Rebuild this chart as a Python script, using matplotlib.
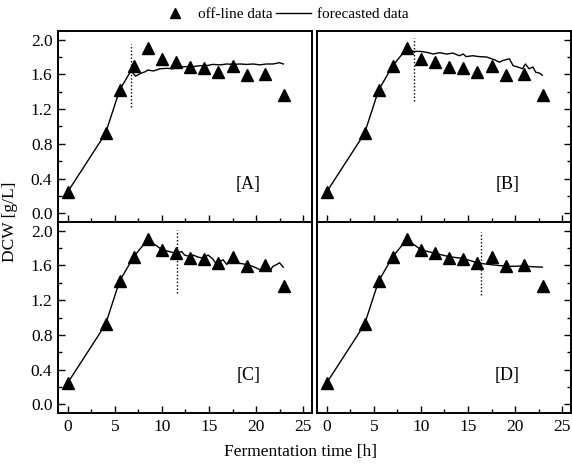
import matplotlib.pyplot as plt
from matplotlib.ticker import MultipleLocator

plt.rcParams['font.family'] = ['Liberation Serif', 'DejaVu Serif']

# off-line measurements (same in every panel)
t_off = [0, 4, 5.5, 7, 8.5, 10, 11.5, 13, 14.5, 16, 17.5, 19, 21, 23]
dcw_off = [0.25, 0.92, 1.42, 1.70, 1.90, 1.78, 1.74, 1.69, 1.67, 1.63, 1.70, 1.59, 1.61, 1.36]

# forecasted curves
t_a = [0, 4, 5.5, 6.7, 7.2, 7.7, 8.2, 8.5, 9.1, 9.8, 10.5, 11.2, 11.9, 12.6, 13.3,
       14.0, 14.7, 15.4, 16.2, 16.9, 17.6, 18.3, 19.0, 19.7, 20.4, 21.1, 21.8, 22.5, 22.9]
dcw_a = [0.25, 0.92, 1.42, 1.64, 1.58, 1.61, 1.63, 1.65, 1.64, 1.665, 1.67, 1.665, 1.685,
         1.69, 1.69, 1.70, 1.70, 1.715, 1.71, 1.72, 1.715, 1.72, 1.715, 1.72, 1.71, 1.72,
         1.72, 1.735, 1.72]

t_b = [0, 4, 5.5, 7, 8.5, 9.2, 9.9, 10.6, 11.3, 12.0, 12.7, 13.4, 14.1, 14.5, 14.8, 15.5,
       16.2, 17.0, 17.5, 17.8, 18.35, 18.7, 19.4, 19.8, 20.3, 20.8, 21.1, 21.5, 21.9, 22.2,
       22.6, 22.9]
dcw_b = [0.25, 0.92, 1.42, 1.70, 1.90, 1.865, 1.865, 1.855, 1.835, 1.85, 1.835, 1.845,
         1.815, 1.835, 1.805, 1.815, 1.805, 1.80, 1.78, 1.77, 1.74, 1.76, 1.78, 1.70, 1.685,
         1.665, 1.72, 1.665, 1.685, 1.625, 1.615, 1.59]

t_c = [0, 4, 5.5, 7, 8.5, 10, 11.5, 12.1, 12.4, 13.0, 13.3, 13.85, 14.4, 14.9, 15.4, 15.8,
       16.15, 16.5, 16.9, 17.2, 17.6, 17.9, 18.5, 19.0, 19.5, 20.05, 20.4, 20.8, 21.1, 21.5,
       21.8, 22.2, 22.5, 22.9]
dcw_c = [0.25, 0.92, 1.42, 1.70, 1.90, 1.78, 1.74, 1.76, 1.72, 1.70, 1.72, 1.695, 1.685,
         1.72, 1.675, 1.61, 1.645, 1.665, 1.61, 1.665, 1.685, 1.63, 1.62, 1.61, 1.595, 1.57,
         1.55, 1.57, 1.59, 1.54, 1.59, 1.61, 1.63, 1.58]

t_d = [0, 4, 5.5, 7, 8.5, 10, 11.5, 13, 14.5, 16, 16.6, 17.3, 18.2, 19.1, 20.0, 20.8, 21.8, 22.9]
dcw_d = [0.25, 0.92, 1.42, 1.70, 1.90, 1.78, 1.74, 1.70, 1.68, 1.63, 1.62, 1.61, 1.60, 1.59,
         1.59, 1.595, 1.585, 1.58]

# switch points (dotted markers): time, bottom, top
cut_t = [6.7, 9.3, 11.6, 16.4]
cut_lo = [1.22, 1.29, 1.28, 1.26]
cut_hi = [1.95, 2.02, 2.01, 1.99]
tags = ['[A]', '[B]', '[C]', '[D]']
curves = [(t_a, dcw_a), (t_b, dcw_b), (t_c, dcw_c), (t_d, dcw_d)]

fig = plt.figure(figsize=(5.72, 4.70), dpi=100)
W, H = 572, 470
boxes = [(58, 31), (317, 31), (58, 222), (317, 222)]

for i, (x0, y0) in enumerate(boxes):
    ax = fig.add_axes([x0 / W, 1 - (y0 + 191) / H, 254 / W, 191 / H])
    t, v = curves[i]
    ax.plot(t, v, color='black', lw=1.0, label='forecasted data', zorder=2)
    ax.plot(t_off, dcw_off, linestyle='none', marker='^', color='black', ms=8,
            label='off-line data', zorder=3)
    ax.vlines(cut_t[i], cut_lo[i], cut_hi[i], colors='black', linestyles=(0, (1, 1.5)), lw=1.0)
    ax.text(19.2, 0.33, tags[i], fontsize=13, ha='center', va='center')

    ax.set_xlim(-1.05, 25.95)
    ax.set_ylim(-0.1, 2.1)
    ax.xaxis.set_major_locator(MultipleLocator(5))
    ax.xaxis.set_minor_locator(MultipleLocator(2.5))
    ax.yaxis.set_major_locator(MultipleLocator(0.4))
    ax.yaxis.set_minor_locator(MultipleLocator(0.2))
    right = i % 2 == 1
    ax.tick_params(which='both', direction='in', top=False,
                   left=not right, right=right, labelleft=not right,
                   labelbottom=i >= 2, labelsize=12.5, width=1.0)
    ax.tick_params(which='major', length=5, pad=4)
    ax.tick_params(which='minor', length=3)
    ax.yaxis.set_major_formatter(plt.FuncFormatter(lambda y, p: f"{y:.1f}"))
    for s in ax.spines.values():
        s.set_linewidth(1.4)
    if i == 0:
        handles, labels = ax.get_legend_handles_labels()

leg = fig.legend(handles[::-1], labels[::-1], loc='center', bbox_to_anchor=(0.495, 1 - 14 / H),
                 ncol=2, frameon=False, fontsize=11, handlelength=2.3, columnspacing=0.2,
                 handletextpad=0.4)
leg.legend_handles[0].set_markersize(7)
fig.text(10 / W, 1 - 222 / H, 'DCW [g/L]', rotation=90, ha='center', va='center', fontsize=12.5)
fig.text(300 / W, 1 - 452 / H, 'Fermentation time [h]', ha='center', va='center', fontsize=12.5)

plt.savefig('out.png', dpi=100)
